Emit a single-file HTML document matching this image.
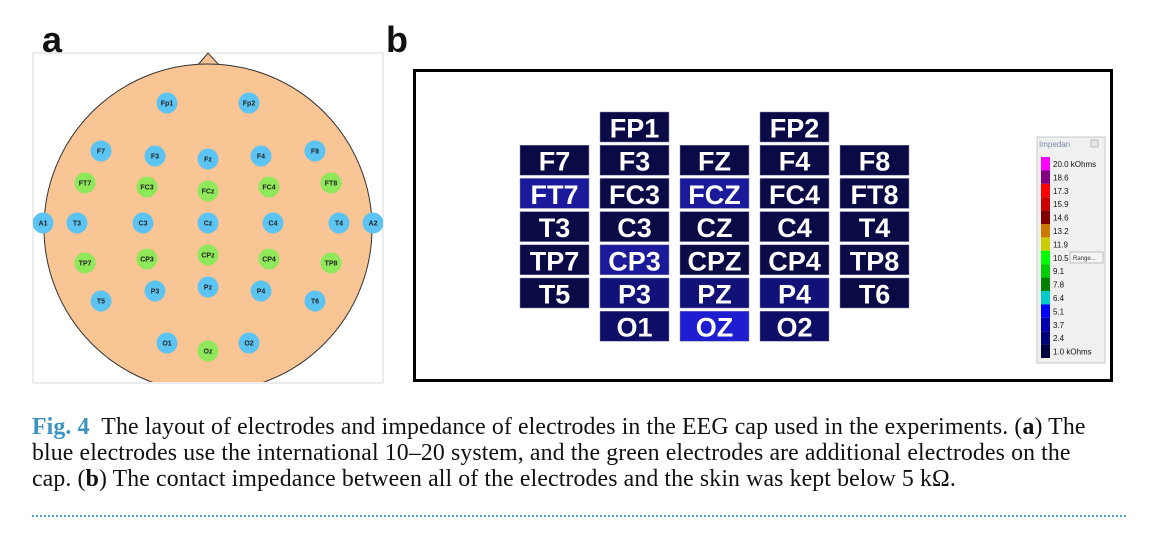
<!DOCTYPE html>
<html><head><meta charset="utf-8">
<style>
html,body{margin:0;padding:0;background:#fff;width:1158px;height:537px;overflow:hidden}
svg{display:block}
.cap{position:absolute;left:32px;top:414px;width:1120px;font-family:"Liberation Serif",serif;font-size:23.8px;line-height:26px;color:#111;white-space:nowrap;letter-spacing:0.12px}
.fig{color:#3a93c0;font-weight:bold}
.dots{position:absolute;left:32px;top:515px;width:1094px;height:0;border-top:2px dotted #4aa3cf}
</style></head><body>
<svg id="fig" width="1158" height="537">
  <text x="42" y="52" font-family="Liberation Sans,sans-serif" font-weight="bold" font-size="36" fill="#111">a</text>
  <text x="386" y="52" font-family="Liberation Sans,sans-serif" font-weight="bold" font-size="36" fill="#111">b</text>
  <rect x="33" y="53" width="350" height="330" fill="#fff" stroke="#d8d8d8" stroke-width="1"/>
  <defs><clipPath id="clipA"><rect x="33" y="40" width="350" height="342"/></clipPath></defs>
  <g clip-path="url(#clipA)" id="headG">
    <polygon points="197,66 208,53 220,66" fill="#f9c594" stroke="#333" stroke-width="1"/>
    <circle cx="208" cy="228" r="164" fill="#f9c594" stroke="#333" stroke-width="1"/>
  </g>
  <rect x="414.5" y="70.5" width="697" height="310" fill="#fff" stroke="#000" stroke-width="3"/>
  <g id="gridG"></g>
  <g>
    <rect x="1037" y="137" width="68" height="226" fill="#f0f0f0" stroke="#c8c8c8"/>
    <text x="1039" y="147" font-family="Liberation Sans,sans-serif" font-size="8" fill="#7a8aa8">Impedan</text>
    <rect x="1091" y="140" width="7" height="7" fill="#e8e8e8" stroke="#999" stroke-width="0.6"/>
    <g id="legG"></g>
    <rect x="1070" y="252" width="33" height="11" fill="#f4f4f4" stroke="#999" stroke-width="0.6"/>
    <text x="1073" y="260" font-family="Liberation Sans,sans-serif" font-size="6" fill="#333">Range...</text>
  </g>
</svg>
<div class="cap"><span class="fig">Fig. 4</span>&nbsp; The layout of electrodes and impedance of electrodes in the EEG cap used in the experiments. (<b>a</b>) The<br>blue electrodes use the international 10–20 system, and the green electrodes are additional electrodes on the<br>cap. (<b>b</b>) The contact impedance between all of the electrodes and the skin was kept below 5 kΩ.</div>
<div class="dots"></div>
<script>
const NS="http://www.w3.org/2000/svg";
// panel a electrodes
const elNames=["Fp1","Fp2","F7","F3","Fz","F4","F8","FT7","FC3","FCz","FC4","FT8","A1","T3","C3","Cz","C4","T4","A2","TP7","CP3","CPz","CP4","TP8","T5","P3","Pz","P4","T6","O1","Oz","O2"];
const elX=[167,249,101,155,208,261,315,85,147,208,269,331,43,77,143,208,273,339,373,85,147,208,269,331,101,155,208,261,315,167,208,249];
const elY=[103,103,151,156,159,156,151,183,187,191,187,183,223,223,223,223,223,223,223,263,259,255,259,263,301,291,287,291,301,343,351,343];
const elGreen=[0,0,0,0,0,0,0,1,1,1,1,1,0,0,0,0,0,0,0,1,1,1,1,1,0,0,0,0,0,0,1,0];
const headG=document.getElementById('headG');
elNames.forEach((n,i)=>{
  const g=document.createElementNS(NS,'g');
  
  
  const c=document.createElementNS(NS,'circle');
  c.setAttribute('cx',elX[i]);c.setAttribute('cy',elY[i]);c.setAttribute('r',10.5);
  c.setAttribute('fill',elGreen[i]?'#8ee85a':'#5cc4f2');
  const t=document.createElementNS(NS,'text');
  t.setAttribute('x',elX[i]);t.setAttribute('y',elY[i]+2.5);
  t.setAttribute('text-anchor','middle');t.setAttribute('font-family','Liberation Sans,sans-serif');
  t.setAttribute('font-weight','bold');t.setAttribute('font-size','7');t.setAttribute('fill','#222');
  t.textContent=n;
  g.appendChild(c);g.appendChild(t);headG.appendChild(g);
});
// panel b grid
const gNames=["FP1","FP2","F7","F3","FZ","F4","F8","FT7","FC3","FCZ","FC4","FT8","T3","C3","CZ","C4","T4","TP7","CP3","CPZ","CP4","TP8","T5","P3","PZ","P4","T6","O1","OZ","O2"];
const gCol=[1,3,0,1,2,3,4,0,1,2,3,4,0,1,2,3,4,0,1,2,3,4,0,1,2,3,4,1,2,3];
const gRow=[0,0,1,1,1,1,1,2,2,2,2,2,3,3,3,3,3,4,4,4,4,4,5,5,5,5,5,6,6,6];
const gImp=[1,1,1,1,1,1,1,3.4,1,3.3,1,1,1,1,1,1,1,1,3.3,1,1,1,1,2.3,2.3,2.1,1,1.6,4.2,1.6];
function impColor(v){
  if(v<1.5) return '#0a0a46';
  if(v<2.0) return '#0e0e66';
  if(v<2.8) return '#111178';
  if(v<3.9) return '#1a1a9a';
  return '#1e1ed0';
}
const gridG=document.getElementById('gridG');
gNames.forEach((n,i)=>{
  const x=520+gCol[i]*80, y=112+gRow[i]*33.2;
  const g=document.createElementNS(NS,'g');
  
  
  const r=document.createElementNS(NS,'rect');
  r.setAttribute('x',x);r.setAttribute('y',y);r.setAttribute('width',69);r.setAttribute('height',30);
  r.setAttribute('fill',impColor(gImp[i]));r.setAttribute('stroke','#8888aa');r.setAttribute('stroke-width','0.5');
  const t=document.createElementNS(NS,'text');
  t.setAttribute('x',x+34.5);t.setAttribute('y',y+25.5);t.setAttribute('text-anchor','middle');
  t.setAttribute('font-family','Liberation Sans,sans-serif');t.setAttribute('font-weight','bold');
  t.setAttribute('font-size','27');t.setAttribute('fill','#fff');
  t.textContent=n;
  g.appendChild(r);g.appendChild(t);gridG.appendChild(g);
});
// legend
const legLabels=["20.0 kOhms","18.6","17.3","15.9","14.6","13.2","11.9","10.5","9.1","7.8","6.4","5.1","3.7","2.4","1.0 kOhms"];
const legColors=["#ff00ff","#800080","#ff0000","#cc0000","#800000","#cc7a00","#cccc00","#00ff00","#00cc00","#008000","#00cccc","#0000ff","#0000b0","#00007a","#000040"];
const legG=document.getElementById('legG');
legLabels.forEach((l,i)=>{
  const y=157+i*13.4;
  const r=document.createElementNS(NS,'rect');
  r.setAttribute('x',1041);r.setAttribute('y',y);r.setAttribute('width',9);r.setAttribute('height',13.4);
  r.setAttribute('fill',legColors[i]);
  
  
  const t=document.createElementNS(NS,'text');
  t.setAttribute('x',1053);t.setAttribute('y',y+10);t.setAttribute('font-family','Liberation Sans,sans-serif');
  t.setAttribute('font-size','8');t.setAttribute('fill','#111');
  
  
  t.textContent=l;
  legG.appendChild(r);legG.appendChild(t);
});
</script>
</body></html>
